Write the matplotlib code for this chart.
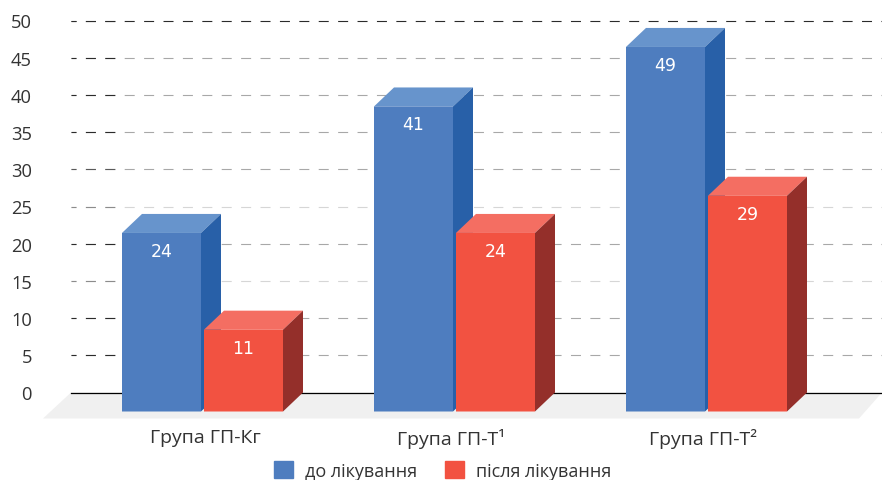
import matplotlib
matplotlib.use("Agg")
import matplotlib.pyplot as plt
from matplotlib.patches import Patch

# values
groups = ["Група ГП-Кг", "Група ГП-Т¹", "Група ГП-Т²"]
before = [24, 41, 49]
after = [11, 24, 29]
series_names = ["до лікування", "після лікування"]
y_ticks = list(range(0, 55, 5))

# 1 px in x and y data units
PX_X = 1 / 252
PX_Y = 1 / 7.44

BAR_W = 79 * PX_X
DEPTH_X = 20 * PX_X
DEPTH_Y = 19 * PX_Y
FLOOR_Y = -26 * PX_Y

BLUE = ("#4e7dbf", "#6794cc", "#2860a8")
RED = ("#f25241", "#f46e62", "#942f2a")

# grid shades: the part left of the first bar is darker, some rows land between pixels
LEFT_SHADE = {15: "#8c8c8c", 25: "#8c8c8c", 30: "#5a5a5a"}
RIGHT_SHADE = {15: "#d6d6d6", 25: "#d6d6d6", 50: "#2b2b2b"}
DASH = (3.6, (7.2, 6.77))  # 10 px on, 9.4 px off, first dash cut short
LABEL_SHIFT = [2, -4, -4]  # px, labels with a superscript sit left of the group centre

plt.rcParams["font.family"] = ["Open Sans", "DejaVu Sans"]
plt.rcParams["lines.scale_dashes"] = False


def bar3d(ax, x, v, colors, z):
    """fake 3d bar: front face sits DEPTH_Y below the axis, back edge on the value"""
    front, top, side = colors
    ax.bar(x, v, BAR_W, bottom=-DEPTH_Y, align="edge", color=front, zorder=z + 1, snap=False)
    ax.fill([x, x + DEPTH_X, x + BAR_W + DEPTH_X, x + BAR_W],
            [v - DEPTH_Y, v, v, v - DEPTH_Y], color=top, lw=0, zorder=z)
    ax.fill([x + BAR_W, x + BAR_W + DEPTH_X, x + BAR_W + DEPTH_X, x + BAR_W],
            [-DEPTH_Y, 0, v, v - DEPTH_Y], color=side, lw=0, zorder=z)
    ax.text(x + BAR_W / 2, v - DEPTH_Y - 18 * PX_Y, str(v), color="white", fontsize=12.5,
            family="DejaVu Sans", ha="center", va="center", zorder=z + 2)


fig = plt.figure(figsize=(8.82, 4.81), dpi=100)
ax = fig.add_axes([43 / 882, 61.5 / 481, 839 / 882, 398 / 481])
ax.set_xlim(-160 * PX_X, 679 * PX_X)
ax.set_ylim(FLOOR_Y, 50)
ax.patch.set_alpha(0.0)
for s in ax.spines.values():
    s.set_visible(False)

x_left = -132 * PX_X
x_right = 679 * PX_X
x_dark = -83 * PX_X

# floor
ax.fill([x_left, x_right, x_right - 23 * PX_X, -160 * PX_X],
        [0, 0, FLOOR_Y, FLOOR_Y], color="#f0f0f0", lw=0, zorder=1)

# dashed grid
for t in y_ticks[1:]:
    ax.plot([x_left, x_right], [t, t], color=RIGHT_SHADE.get(t, "#a8a8a8"), lw=0.8,
            linestyle=DASH, dash_capstyle="butt", zorder=2, clip_on=False)
    ax.plot([x_left, x_dark], [t, t], color=LEFT_SHADE.get(t, "#2b2b2b"), lw=0.8,
            linestyle=DASH, dash_capstyle="butt", zorder=2)
ax.plot([x_left, x_right], [0, 0], color="black", lw=0.9, zorder=2)

ax.set_yticks(y_ticks)
ax.set_xticks([i + LABEL_SHIFT[i] * PX_X for i in range(len(groups))])
ax.set_xticklabels(groups)
ax.tick_params(axis="y", length=0, pad=8, labelsize=13.2, labelcolor="#333333")
ax.tick_params(axis="x", length=0, pad=6.5, labelsize=14, labelcolor="#333333")

for i in range(len(groups)):
    bar3d(ax, i - 81 * PX_X, before[i], BLUE, 3)
    bar3d(ax, i + 1 * PX_X, after[i], RED, 6)

handles = [Patch(color=BLUE[0]), Patch(color=RED[0])]
fig.legend(handles, series_names, ncol=2, frameon=False, fontsize=13,
           labelcolor="#333333", loc="center", bbox_to_anchor=(443 / 882, 9.5 / 481),
           handlelength=1.05, handleheight=1.0, handletextpad=0.66, columnspacing=1.55)

fig.savefig("out.png", dpi=100)
